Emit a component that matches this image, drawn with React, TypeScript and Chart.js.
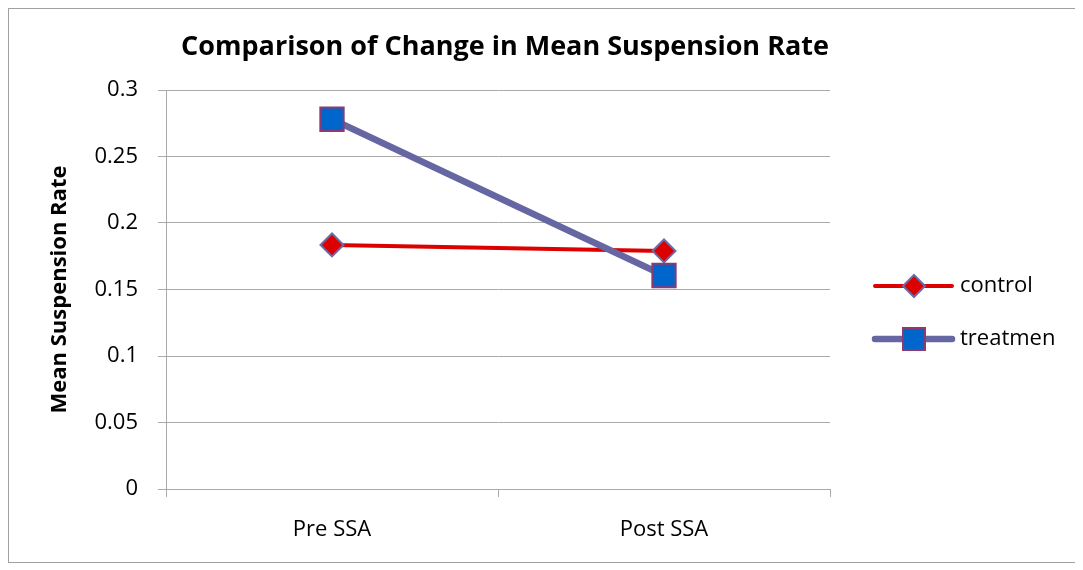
import React, { useEffect, useRef } from "react";
import { Chart, registerables } from "chart.js";

Chart.register(...registerables);

const categories = ["Pre SSA", "Post SSA"];
const controlValues = [0.1835, 0.179];
const treatmentValues = [0.278, 0.1605];
const seriesNames = ["control", "treatmen"];
const yTicks = [0, 0.05, 0.1, 0.15, 0.2, 0.25, 0.3];
const chartTitle = "Comparison of Change in Mean Suspension Rate";
const yTitle = "Mean Suspension Rate";

const FONT = "'Open Sans', 'Noto Sans', sans-serif";

const overlayPlugin = {
  id: "overlay",
  afterDraw(chart: any) {
    const ctx = chart.ctx;
    const area = chart.chartArea;
    ctx.save();
    // title
    ctx.fillStyle = "#000";
    ctx.font = `bold 27px ${FONT}`;
    ctx.textAlign = "center";
    ctx.textBaseline = "middle";
    ctx.fillText(chartTitle, (area.left + area.right) / 2 + 7, 38);
    // legend
    const lx = area.right + 45;
    const rows = [area.top + 196, area.top + 249];
    chart.data.datasets.forEach((ds: any, i: number) => {
      const y = rows[i];
      ctx.strokeStyle = ds.borderColor;
      ctx.lineWidth = ds.borderWidth;
      ctx.lineCap = "round";
      ctx.beginPath();
      ctx.moveTo(lx, y);
      ctx.lineTo(lx + 77, y);
      ctx.stroke();
      ctx.fillStyle = ds.pointBackgroundColor;
      ctx.strokeStyle = ds.pointBorderColor;
      ctx.lineWidth = ds.pointBorderWidth;
      const cx = lx + 39;
      ctx.beginPath();
      if (ds.pointStyle === "rectRot") {
        const r = 11;
        ctx.moveTo(cx, y - r);
        ctx.lineTo(cx + r, y);
        ctx.lineTo(cx, y + r);
        ctx.lineTo(cx - r, y);
        ctx.closePath();
      } else {
        ctx.rect(cx - 11, y - 11, 22, 22);
      }
      ctx.fill();
      ctx.stroke();
      ctx.fillStyle = "#000";
      ctx.font = `22px ${FONT}`;
      ctx.textAlign = "left";
      ctx.textBaseline = "middle";
      ctx.fillText(ds.label, lx + 85, y);
    });
    ctx.restore();
  },
};

export default function App() {
  const ref = useRef<HTMLCanvasElement>(null);
  useEffect(() => {
    if (!ref.current) return;
    const chart = new Chart(ref.current, {
      type: "line",
      data: {
        labels: categories,
        datasets: [
          {
            label: seriesNames[0],
            data: controlValues,
            borderColor: "#DD0000",
            borderWidth: 4,
            pointStyle: "rectRot",
            pointRadius: 11.5,
            pointBackgroundColor: "#DD0000",
            pointBorderColor: "#6B6BA8",
            pointBorderWidth: 2,
            order: 1,
          },
          {
            label: seriesNames[1],
            data: treatmentValues,
            borderColor: "#6666A3",
            borderWidth: 6.5,
            pointStyle: "rect",
            pointRadius: 16.5,
            pointBackgroundColor: "#0066CC",
            pointBorderColor: "#8E3A70",
            pointBorderWidth: 2,
            order: 0,
          },
        ],
      },
      plugins: [overlayPlugin],
      options: {
        responsive: false,
        animation: false,
        layout: { padding: { top: 81, right: 246, left: 0, bottom: 0 } },
        plugins: {
          legend: { display: false },
          title: { display: false },
          tooltip: { enabled: false },
        },
        scales: {
          x: {
            offset: true,
            grid: {
              offset: true,
              drawOnChartArea: false,
              drawTicks: true,
              tickLength: 8,
              color: "#aaaaaa",
            },
            border: { color: "#aaaaaa" },
            ticks: {
              color: "#000",
              font: { family: FONT, size: 22 },
              padding: 20,
            },
            afterFit: (s: any) => {
              s.height = 73;
            },
          },
          y: {
            min: 0,
            max: 0.3,
            afterBuildTicks: (s: any) => {
              s.ticks = yTicks.map((v) => ({ value: v }));
            },
            grid: { color: "#aaaaaa", tickLength: 8 },
            border: { color: "#aaaaaa" },
            ticks: {
              color: "#000",
              font: { family: FONT, size: 22 },
              padding: 20,
              callback: (v: any) => String(v),
            },
            title: {
              display: true,
              text: yTitle,
              color: "#000",
              font: { family: FONT, size: 22, weight: "bold" },
              padding: { top: 38, bottom: 0 },
            },
            afterFit: (s: any) => {
              s.width = 157;
            },
          },
        },
      },
    });
    return () => chart.destroy();
  }, []);
  return (
    <div
      style={{
        width: 1069,
        height: 555,
        border: "1px solid #a0a0a0",
        boxSizing: "border-box",
        background: "#fff",
      }}
    >
      <canvas ref={ref} width={1067} height={553} style={{ display: "block" }} />
    </div>
  );
}
